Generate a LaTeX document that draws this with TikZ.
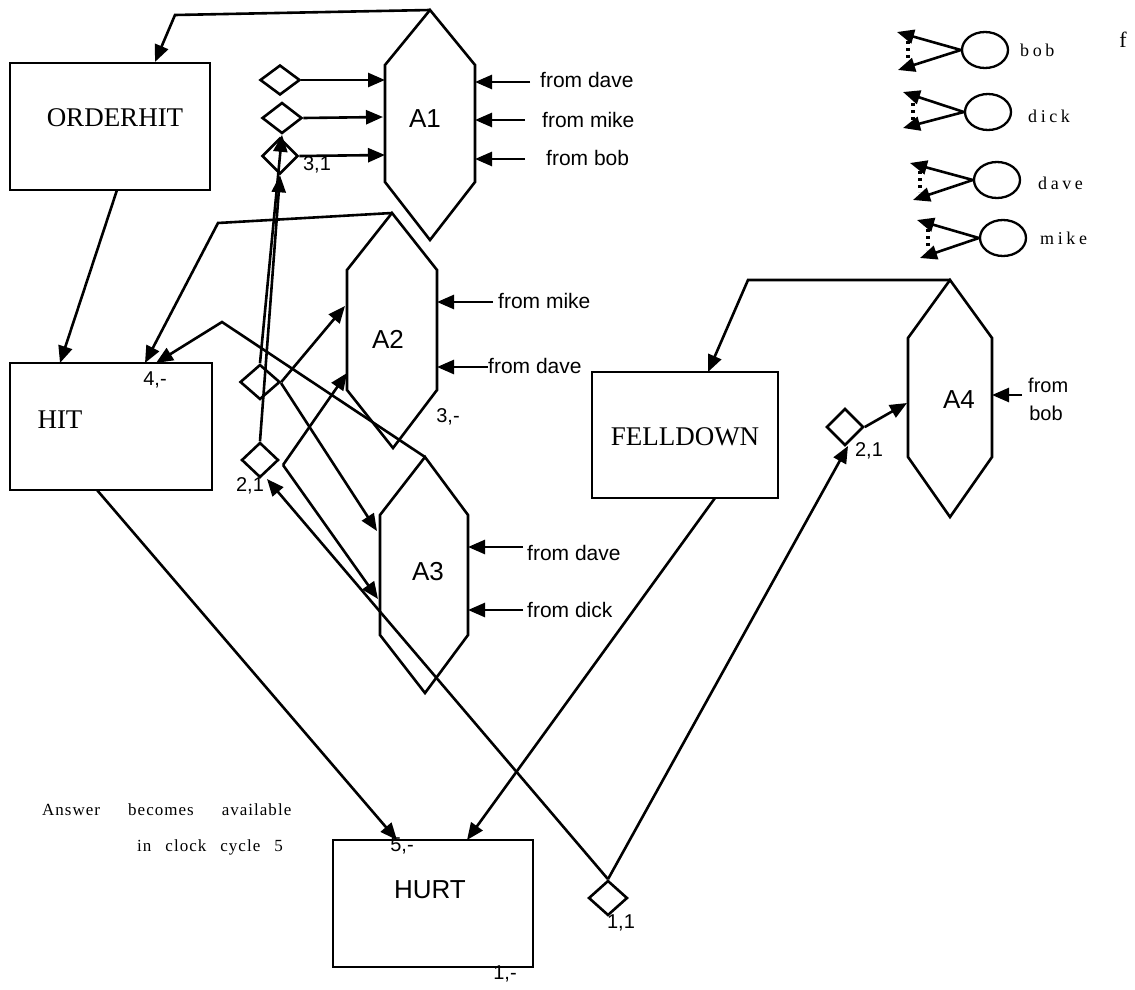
\documentclass[tikz,border=0pt]{standalone}
\usepackage{fontspec}
\setmainfont{Liberation Serif}
\setsansfont{Liberation Sans}
\usetikzlibrary{arrows.meta,shapes.geometric}
\begin{document}
\begin{tikzpicture}[x=1pt,y=-1pt,
  ln/.style={line width=2.6pt, line join=miter},
  arr/.style={ln,-{Triangle[length=17pt,width=14pt]}},
  boxnode/.style={draw,line width=2.3pt,inner sep=0pt,rectangle},
  dia/.style={draw,line width=2.6pt,diamond,inner sep=0pt,minimum width=40pt,minimum height=34pt},
  hexa/.style={line width=2.6pt, line join=miter},
  serifbig/.style={font=\fontsize{27}{29}\selectfont, inner sep=0pt},
  sansbig/.style={font=\sffamily\fontsize{26}{28}\selectfont, inner sep=0pt},
  sanslab/.style={font=\sffamily\fontsize{20}{22}\selectfont, inner sep=0pt},
  sansfrom/.style={font=\sffamily\fontsize{21}{23}\selectfont, inner sep=0pt, anchor=west},
  legtext/.style={font=\fontsize{18}{20}\selectfont\addfontfeature{LetterSpace=20}, inner sep=0pt, anchor=west},
  anstext/.style={font=\fontsize{17}{19}\selectfont\addfontfeature{LetterSpace=6}, inner sep=0pt},
  circ/.style={draw,ellipse,line width=2.3pt,minimum width=46pt,minimum height=36pt,inner sep=0pt},
  dots/.style={line width=3.2pt, dash pattern=on 3pt off 4pt},
]
\useasboundingbox (0,0) rectangle (1135,990);

% ---------- boxes ----------
\node[boxnode, minimum width=200pt, minimum height=127pt] (OH) at (110,126.5) {};
\node[serifbig] (OHt) at (115,118) {ORDERHIT};
\node[boxnode, minimum width=202pt, minimum height=127pt] (HIT) at (111,426.5) {};
\node[serifbig] (HITt) at (60,420) {HIT};
\node[boxnode, minimum width=186pt, minimum height=126pt] (FD) at (685,435) {};
\node[serifbig] (FDt) at (685,437) {FELLDOWN};
\node[boxnode, minimum width=200pt, minimum height=127pt] (HURT) at (433,903.5) {};
\node[sansbig] (HURTt) at (430,890) {HURT};

% ---------- hexagons ----------
\coordinate (A1t) at (430,10);  \coordinate (A1ur) at (475,65);  \coordinate (A1lr) at (475,182);
\coordinate (A1b) at (430,240); \coordinate (A1ll) at (385,182); \coordinate (A1ul) at (385,65);
\draw[hexa] (A1t) -- (A1ur) -- (A1lr) -- (A1b) -- (A1ll) -- (A1ul) -- cycle;
\node[sansbig] (A1l) at (425,119) {A1};

\coordinate (A2t) at (392,213);  \coordinate (A2ur) at (437,270); \coordinate (A2lr) at (437,390);
\coordinate (A2b) at (393,448);  \coordinate (A2ll) at (347,390); \coordinate (A2ul) at (347,270);
\draw[hexa] (A2t) -- (A2ur) -- (A2lr) -- (A2b) -- (A2ll) -- (A2ul) -- cycle;
\node[sansbig] (A2l) at (388,339) {A2};

\coordinate (A3t) at (425,457);  \coordinate (A3ur) at (468,515); \coordinate (A3lr) at (468,635);
\coordinate (A3b) at (425,693);  \coordinate (A3ll) at (380,635); \coordinate (A3ul) at (380,515);
\draw[hexa] (A3t) -- (A3ur) -- (A3lr) -- (A3b) -- (A3ll) -- (A3ul) -- cycle;
\node[sansbig] (A3l) at (428,572) {A3};

\coordinate (A4t) at (950,280);  \coordinate (A4ur) at (992,338); \coordinate (A4lr) at (992,457);
\coordinate (A4b) at (950,517);  \coordinate (A4ll) at (908,457); \coordinate (A4ul) at (908,338);
\draw[hexa] (A4t) -- (A4ur) -- (A4lr) -- (A4b) -- (A4ll) -- (A4ul) -- cycle;
\node[sansbig] (A4l) at (959,400) {A4};

% ---------- diamonds ----------
\node[dia, minimum height=30pt] (d1) at (280,80) {};
\node[dia, minimum height=31pt] (d2) at (282,118) {};
\node[dia, minimum width=36pt, minimum height=36pt] (d3) at (280,156) {};
\node[dia, minimum height=35pt] (d4) at (260,382) {};
\node[dia, minimum width=37pt, minimum height=35pt] (d5) at (260,460) {};
\node[dia, minimum width=37pt, minimum height=37pt] (d6) at (845,427) {};
\node[dia, minimum width=39pt, minimum height=35pt] (d7) at (608,898) {};

% ---------- labels ----------
\node[sanslab] (l31) at (317,165) {3,1};
\node[sanslab] (l4) at (155,380) {4,-};
\node[sanslab] (l3) at (448,417) {3,-};
\node[sanslab] (l21a) at (250,486) {2,1};
\node[sanslab] (l21b) at (869,451) {2,1};
\node[sanslab] (l5) at (402,846) {5,-};
\node[sanslab] (l1) at (505,974) {1,-};
\node[sanslab] (l11) at (621,923) {1,1};

% ---------- connectors ----------
\coordinate (k1) at (175,15);   \coordinate (OHin) at (155,62);
\draw[arr] (A1t) -- (k1) -- (OHin);
\coordinate (OHout) at (117,190); \coordinate (HITin1) at (60,363);
\draw[arr] (OHout) -- (HITin1);
\coordinate (k2) at (218,223);  \coordinate (HITin2) at (145,363);
\draw[arr] (A2t) -- (k2) -- (HITin2);
\coordinate (k3) at (222,322);  \coordinate (HITin3) at (156,363);
\draw[arr] (A3t) -- (k3) -- (HITin3);
\coordinate (HITout) at (97,490); \coordinate (HURTin1) at (397,840);
\draw[arr] (HITout) -- (HURTin1);
\coordinate (FDout) at (715,498); \coordinate (HURTin2) at (467,840);
\draw[arr] (FDout) -- (HURTin2);
\coordinate (k4) at (748,280);  \coordinate (FDin) at (708,372);
\draw[arr] (A4t) -- (k4) -- (FDin);

% diamonds to A1
\draw[arr] (d1.east) -- (385,80);
\draw[arr] (d2.east) -- (383,117);
\draw[arr] (d3.east) -- (385,155);
% up to d2/d3
\draw[arr] (d4.north) -- (d2.south);
\draw[arr] (d5.north) -- (d3.south);
% d4, d5 to A2 / A3
\coordinate (c4) at (281,383);
\draw[arr] (d4.east) -- (345,306);
\draw[arr] (c4) -- (377,531);
\coordinate (c5) at (283,465);
\draw[arr] (c5) -- (347,373);
\draw[arr] (c5) -- (378,599);
% 1,1 diamond
\coordinate (d5in) at (267,479);
\draw[arr] (d7.north) -- (d5in);
\coordinate (d6in) at (848,446);
\draw[arr] (d7.north) -- (d6in);
\draw[arr] (d6.east) -- (907,403);

% from-arrows
\coordinate (f1) at (530,82);  \draw[arr] (f1) -- (A1ur |- f1);
\node[sansfrom] at (540,80) {from dave};
\coordinate (f2) at (525,120); \draw[arr] (f2) -- (A1ur |- f2);
\node[sansfrom] at (542,120) {from mike};
\coordinate (f3) at (525,159); \draw[arr] (f3) -- (A1ur |- f3);
\node[sansfrom] at (546,158) {from bob};
\coordinate (f4) at (493,302); \draw[arr] (f4) -- (A2ur |- f4);
\node[sansfrom] at (498,301) {from mike};
\coordinate (f5) at (488,367); \draw[arr] (f5) -- (A2ur |- f5);
\node[sansfrom] at (488,366) {from dave};
\coordinate (f6) at (523,547); \draw[arr] (f6) -- (A3ur |- f6);
\node[sansfrom] at (527,553) {from dave};
\coordinate (f7) at (523,610); \draw[arr] (f7) -- (A3ur |- f7);
\node[sansfrom] at (527,610) {from dick};
\coordinate (f8) at (1022,395); \draw[arr] (f8) -- (A4ur |- f8);
\node[font=\sffamily\fontsize{20}{22}\selectfont, inner sep=0pt, anchor=base west] at (1028,392) {from};
\node[font=\sffamily\fontsize{20}{22}\selectfont, inner sep=0pt] at (1046,413) {bob};

% ---------- legend ----------
\foreach \nm/\cx/\cy/\tx/\ty/\bx/\by/\dx in {bob/985/50/897/32/898/70/908, dick/988/112/903/92/903/128/913, dave/997/180/910/163/913/200/920, mike/1003/238/917/220/920/258/928}{
  \node[circ] (c\nm) at (\cx,\cy) {};
  \coordinate (t\nm) at (\tx,\ty);
  \coordinate (b\nm) at (\bx,\by);
  \draw[arr] (c\nm.west) -- (t\nm);
  \draw[arr] (c\nm.west) -- (b\nm);
  \draw[dots] (\dx,\cy-9) -- (\dx,\cy+12);
}
\node[legtext] at (1020,50) {bob};
\node[legtext] at (1028,116) {dick};
\node[legtext] at (1038,183) {dave};
\node[legtext] at (1040,238) {mike};
\node[font=\fontsize{22}{24}\selectfont, inner sep=0pt] at (1123,40) {f};

% ---------- answer text ----------
\node[anstext, anchor=west] at (42,810) {Answer\hspace{28pt}becomes\hspace{28pt}available};
\node[anstext, anchor=east] at (283,847) {in\hspace{14pt}clock\hspace{14pt}cycle\hspace{14pt}5};
\end{tikzpicture}
\end{document}
